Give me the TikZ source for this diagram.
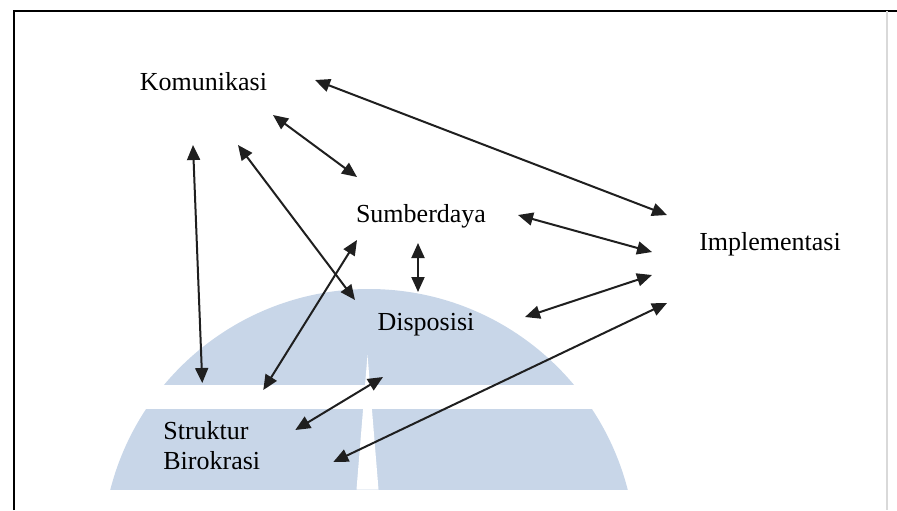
\documentclass[tikz,border=0pt]{standalone}
\usepackage{fontspec}
\setmainfont{Liberation Serif}
\usepackage{xcolor}
\usetikzlibrary{arrows.meta, positioning}
\definecolor{domeblue}{RGB}{200,214,232}

\begin{document}
\begin{tikzpicture}[x=0.5pt, y=-0.5pt,
    lbl/.style={inner sep=0pt, font=\fontsize{13}{15}\selectfont, text height=9pt, text depth=2.5pt},
    link/.style={draw=black!88, line width=1pt, {Triangle[length=7.5pt,width=6.5pt]}-{Triangle[length=7.5pt,width=6.5pt]}}]
        \useasboundingbox (0,0) rectangle (897,510);

        % 绘制边框
        \draw[line width=1pt] (14,510) -- (14,11) -- (897,11);
        \draw[gray!30, line width=0.8pt] (887,11) -- (887,510);

        % 绘制蓝色圆盘
        \begin{scope}
        \clip (0,0) rectangle (897,489);
        \fill[domeblue] (369,556) circle [radius=267];
        \end{scope}
        \fill[white] (90,385) rectangle (660,409);
        \fill[white] (367.5,355) -- (356.5,489.5) -- (378.5,489.5) -- cycle;

        % 文字
        \node[lbl] (kom) at (203.5,83.5) {Komunikasi};
        \node[lbl] (sum) at (421,215.5) {Sumberdaya};
        \node[lbl] (imp) at (770,243.5) {Implementasi};
        \node[lbl] (dis) at (426,323.5) {Disposisi};
        \node[inner sep=0pt, font=\fontsize{13}{15}\selectfont, align=left, anchor=west] (str) at (163,446) {Struktur\\Birokrasi};

        % 绘制双向箭头
        \draw[link] ([shift={(111.5,-3.5)}]kom.center) -- ([shift={(-103,-28.5)}]imp.center);
        \draw[link] ([shift={(69.5,31.5)}]kom.center) -- ([shift={(-64,-38.5)}]sum.center);
        \draw[link] ([shift={(34.5,61.5)}]kom.center) -- ([shift={(-71,-23.5)}]dis.center);
        \draw[link] ([shift={(-10.5,61.5)}]kom.center) -- ([shift={(-9.5,-63)}]str.center);
        \draw[link] ([shift={(-64,24.5)}]sum.center) -- ([shift={(51.5,-56)}]str.center);
        \draw[link] ([shift={(-3,27.5)}]sum.center) -- ([shift={(-8,-31.5)}]dis.center);
        \draw[link] ([shift={(97,-0.5)}]sum.center) -- ([shift={(-118,8.5)}]imp.center);
        \draw[link] ([shift={(99,-6.5)}]dis.center) -- ([shift={(-118,31.5)}]imp.center);
        \draw[link] ([shift={(-103,59.5)}]imp.center) -- ([shift={(121.5,16)}]str.center);
        \draw[link] ([shift={(-43,53.5)}]dis.center) -- ([shift={(83.5,-16)}]str.center);
\end{tikzpicture}
\end{document}
